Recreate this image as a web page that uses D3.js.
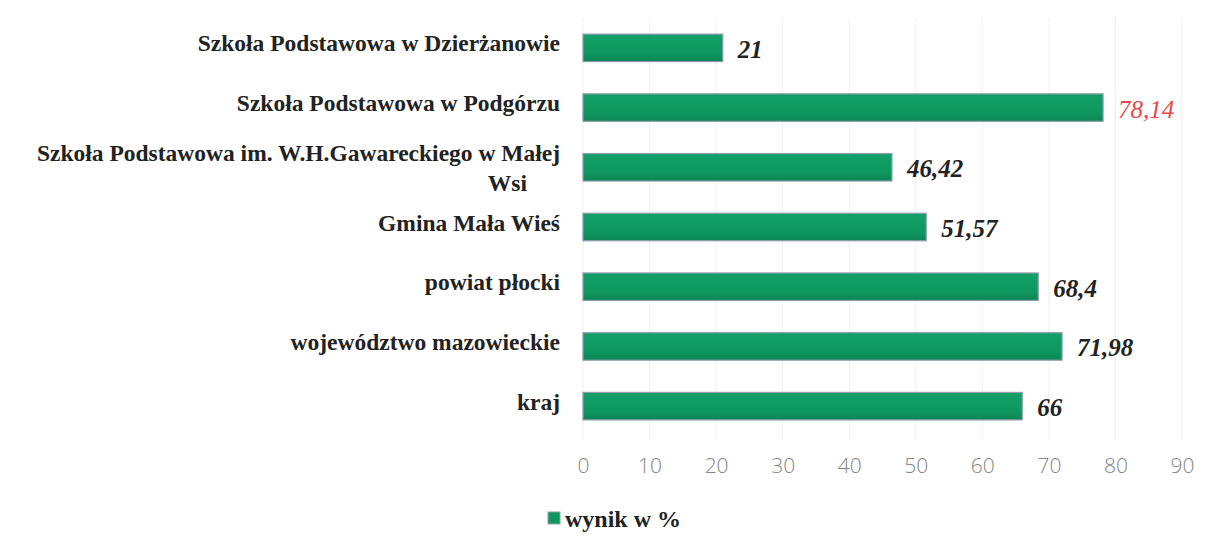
<!DOCTYPE html>
<html>
<head>
<meta charset="utf-8">
<script src="https://cdn.jsdelivr.net/npm/d3@7"></script>
<style>
  body { margin: 0; background: #fff; }
  svg { display: block; }
</style>
</head>
<body>
<div id="chart"></div>
<script>
const categories = [
    'Szkoła Podstawowa w Dzierżanowie',
    'Szkoła Podstawowa w Podgórzu',
    'Szkoła Podstawowa im. W.H.Gawareckiego w Małej|Wsi',
    'Gmina Mała Wieś',
    'powiat płocki',
    'województwo mazowieckie',
    'kraj'
];
const values = [21, 78.14, 46.42, 51.57, 68.4, 71.98, 66];
const valueLabels = ['21', '78,14', '46,42', '51,57', '68,4', '71,98', '66'];
const xTicks = [0, 10, 20, 30, 40, 50, 60, 70, 80, 90];
const seriesName = 'wynik w %';

const width = 1210;
const height = 547;
const margin = {top: 18, right: 28, bottom: 111, left: 583};
const serif = '"Liberation Serif", "Times New Roman", serif';

const data = categories.map((c, i) => ({cat: c, value: values[i], label: valueLabels[i]}));

const scaleX = d3.scaleLinear()
.domain([0, 90])
.range([margin.left, width - margin.right]);

const scaleY = d3.scaleBand()
.domain(categories)
.range([margin.top, height - margin.bottom])
.paddingInner(0.54)
.paddingOuter(0.27);

const svg = d3.select('#chart')
.append('svg')
.attr('width', width)
.attr('height', height);

const defs = svg.append('defs');
const grad = defs.append('linearGradient')
.attr('id', 'barGrad')
.attr('x1', 0).attr('y1', 0).attr('x2', 0).attr('y2', 1);
grad.append('stop').attr('offset', '0%').attr('stop-color', '#13a068');
grad.append('stop').attr('offset', '70%').attr('stop-color', '#0f9760');
grad.append('stop').attr('offset', '100%').attr('stop-color', '#0b8455');

// gridlines
svg.append('g')
.selectAll('line')
.data(xTicks)
.enter()
.append('line')
.attr('x1', d => scaleX(d))
.attr('x2', d => scaleX(d))
.attr('y1', margin.top)
.attr('y2', height - margin.bottom + 4)
.attr('stroke', '#efefef')
.attr('stroke-width', 1);

// x axis
const xAxis = d3.axisBottom(scaleX).tickValues(xTicks).tickSize(0).tickPadding(22);
const gx = svg.append('g')
.attr('transform', `translate(0, ${height - margin.bottom})`)
.call(xAxis);
gx.select('.domain').remove();
gx.selectAll('text')
.attr('font-family', '"Open Sans", sans-serif')
.attr('font-weight', 300)
.attr('font-size', 21)
.attr('fill', '#858585');

// bars
svg.append('g')
.selectAll('rect')
.data(data)
.enter()
.append('rect')
.attr('x', scaleX(0))
.attr('y', d => scaleY(d.cat))
.attr('width', d => scaleX(d.value) - scaleX(0))
.attr('height', scaleY.bandwidth())
.attr('fill', 'url(#barGrad)')
.attr('stroke', '#8e9cab')
.attr('stroke-width', 1.2);

// value labels
svg.append('g')
.selectAll('text')
.data(data)
.enter()
.append('text')
.attr('x', d => scaleX(d.value) + 15)
.attr('y', d => scaleY(d.cat) + scaleY.bandwidth() / 2)
.attr('dy', '0.4em')
.attr('font-family', serif)
.attr('font-style', 'italic')
.attr('font-weight', d => d.value === 78.14 ? 'normal' : 'bold')
.attr('font-size', 25)
.attr('fill', d => d.value === 78.14 ? '#e8474c' : '#222')
.text(d => d.label);

// category labels
const labelRight = margin.left - 23;
const catG = svg.append('g')
.selectAll('text')
.data(data)
.enter()
.append('text')
.attr('font-family', serif)
.attr('font-weight', 'bold')
.attr('font-size', 23.5)
.attr('fill', '#222')
.attr('text-anchor', 'end')
.attr('y', d => scaleY(d.cat) + scaleY.bandwidth() / 2);

catG.each(function(d) {
    const parts = d.cat.split('|');
    const t = d3.select(this);
    if (parts.length === 1) {
        t.attr('x', labelRight).attr('dy', '0.15em').text(parts[0]);
    } else {
        t.append('tspan').attr('x', labelRight).attr('dy', '-0.25em').text(parts[0]);
        t.append('tspan').attr('x', labelRight - 33).attr('dy', '1.25em').text(parts[1]);
    }
});

// legend
const legend = svg.append('g')
.attr('transform', `translate(548, 512)`);
legend.append('rect')
.attr('width', 12)
.attr('height', 12)
.attr('fill', '#0f9760')
.attr('stroke', '#8e9cab');
legend.append('text')
.attr('x', 17)
.attr('y', 6)
.attr('dy', '0.36em')
.attr('font-family', serif)
.attr('font-weight', 'bold')
.attr('font-size', 24)
.attr('fill', '#222')
.text(seriesName);
</script>
</body>
</html>
